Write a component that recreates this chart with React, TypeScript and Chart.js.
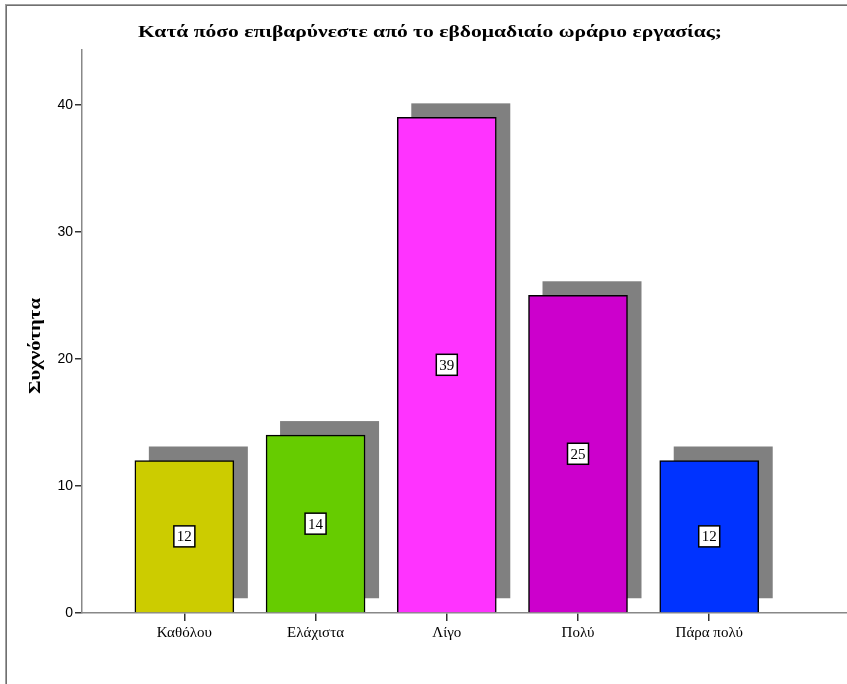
import React, { useEffect, useRef } from "react";
import { Chart, registerables } from "chart.js";

Chart.register(...registerables);

// Survey question and axis caption
const chartTitle = "Κατά πόσο επιβαρύνεστε από το εβδομαδιαίο ωράριο εργασίας;";
const yAxisTitle = "Συχνότητα";

// Answer categories and their counts
const categories = ["Καθόλου", "Ελάχιστα", "Λίγο", "Πολύ", "Πάρα πολύ"];
const frequencies = [12, 14, 39, 25, 12];
const barColors = ["#cccc00", "#66cc00", "#ff33ff", "#cc00cc", "#0033ff"];
const yTicks = [0, 10, 20, 30, 40];

const SERIF = "'Liberation Serif', 'Times New Roman', serif";
const SANS = "'Liberation Sans', Arial, sans-serif";

// Writes text centred on (cx, cy), stretched horizontally to the given width
function drawStretched(ctx: CanvasRenderingContext2D, text: string, cx: number, cy: number, width: number) {
  const natural = ctx.measureText(text).width;
  ctx.save();
  ctx.translate(cx, cy);
  ctx.scale(width / natural, 1);
  ctx.textAlign = "center";
  ctx.fillText(text, 0, 0);
  ctx.restore();
}

// Draws the drop shadows behind each bar, the value boxes, the frame and titles
const decorations = {
  id: "decorations",
  beforeDatasetsDraw(chart: any) {
    const ctx = chart.ctx;
    const meta = chart.getDatasetMeta(0);
    ctx.save();
    ctx.fillStyle = "#808080";
    meta.data.forEach((el: any) => {
      const { x, y, base, width } = el.getProps(["x", "y", "base", "width"], true);
      ctx.fillRect(x - width / 2 + 14, y - 14, width, base - y);
    });
    ctx.restore();
  },
  afterDatasetsDraw(chart: any) {
    const ctx = chart.ctx;
    const meta = chart.getDatasetMeta(0);
    ctx.save();
    ctx.font = `15px ${SERIF}`;
    ctx.textAlign = "center";
    ctx.textBaseline = "middle";
    meta.data.forEach((el: any, i: number) => {
      const { x, y, base } = el.getProps(["x", "y", "base"], true);
      const cy = (y + base) / 2;
      const label = String(frequencies[i]);
      const w = ctx.measureText(label).width + 6;
      const h = 21;
      ctx.fillStyle = "#ffffff";
      ctx.fillRect(x - w / 2, cy - h / 2, w, h);
      ctx.strokeStyle = "#000000";
      ctx.lineWidth = 1.5;
      ctx.strokeRect(x - w / 2, cy - h / 2, w, h);
      ctx.fillStyle = "#000000";
      ctx.fillText(label, x, cy + 1);
    });
    ctx.restore();
  },
  afterDraw(chart: any) {
    const ctx = chart.ctx;
    ctx.save();
    // outer frame (top and left edges)
    ctx.fillStyle = "#a0a0a0";
    ctx.fillRect(5, 4, chart.width - 5, 2);
    ctx.fillRect(5, 4, 2, chart.height - 4);
    ctx.fillStyle = "#707070";
    ctx.fillRect(6, 5, chart.width - 6, 1);
    ctx.fillRect(6, 5, 1, chart.height - 5);

    // chart title
    ctx.fillStyle = "#000000";
    ctx.font = `bold 17px ${SERIF}`;
    ctx.textBaseline = "alphabetic";
    drawStretched(ctx, chartTitle, 430, 37, 584);

    // y-axis title
    ctx.save();
    ctx.translate(40, 346);
    ctx.rotate(-Math.PI / 2);
    ctx.font = `bold 17px ${SERIF}`;
    drawStretched(ctx, yAxisTitle, 0, 0, 96);
    ctx.restore();
    ctx.restore();
  },
};

export default function App() {
  const canvasRef = useRef<HTMLCanvasElement | null>(null);

  useEffect(() => {
    const canvas = canvasRef.current;
    if (!canvas) return;
    const chart = new Chart(canvas, {
      type: "bar",
      data: {
        datasets: [
          {
            data: frequencies.map((v, i) => ({ x: i, y: v })),
            backgroundColor: barColors,
            borderColor: "#000000",
            borderWidth: 1.5,
            barThickness: 99,
          },
        ],
      },
      options: {
        responsive: false,
        animation: false,
        devicePixelRatio: 1,
        layout: { padding: { top: 50, left: 0, right: 0, bottom: 0 } },
        plugins: {
          legend: { display: false },
          tooltip: { enabled: false },
          title: { display: false },
        },
        scales: {
          x: {
            type: "linear",
            min: -0.78,
            max: 5.05,
            offset: false,
            afterBuildTicks: (s: any) => {
              s.ticks = categories.map((_, i) => ({ value: i }));
            },
            afterFit: (s: any) => {
              s.height = 71;
            },
            ticks: {
              autoSkip: false,
              maxRotation: 0,
              padding: 3,
              color: "#000000",
              font: { family: SERIF, size: 15 },
              callback: (v: any) => categories[v] ?? "",
            },
            grid: {
              offset: false,
              drawOnChartArea: false,
              drawTicks: true,
              tickLength: 8,
              color: "#333333",
              lineWidth: 1.5,
            },
            border: { color: "#888888", width: 1.5 },
          },
          y: {
            type: "linear",
            min: 0,
            max: 44.3,
            afterBuildTicks: (s: any) => {
              s.ticks = yTicks.map((v) => ({ value: v }));
            },
            afterFit: (s: any) => {
              s.width = 82;
            },
            ticks: {
              padding: 2,
              color: "#000000",
              font: { family: SANS, size: 14 },
            },
            grid: { drawOnChartArea: false, drawTicks: true, tickLength: 7, color: "#333333", lineWidth: 1.5 },
            border: { color: "#888888", width: 1.5 },
          },
        },
      },
      plugins: [decorations],
    } as any);
    return () => chart.destroy();
  }, []);

  return (
    <div style={{ position: "fixed", left: 0, top: 0, width: 847, height: 684, background: "#ffffff" }}>
      <canvas ref={canvasRef} width={847} height={684} style={{ display: "block" }} />
    </div>
  );
}
